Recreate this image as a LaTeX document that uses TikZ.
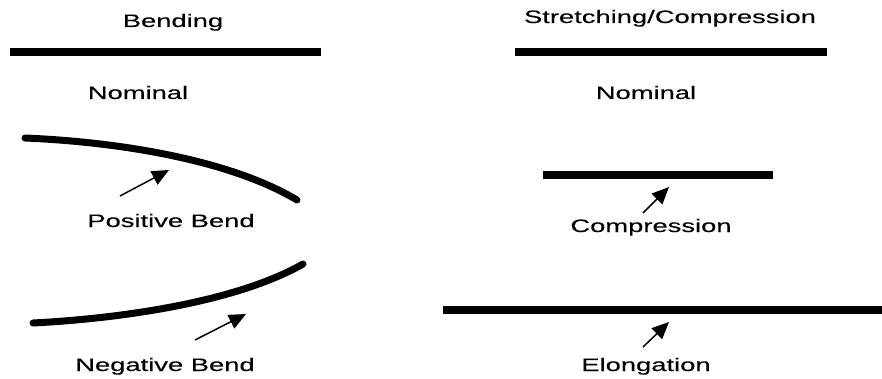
\documentclass[tikz,border=0pt]{standalone}
\usepackage{fontspec}
\setmainfont{Liberation Sans}
\newfontfamily\widefont[FakeStretch=1.52,FakeBold=0.15]{Liberation Sans}
\usetikzlibrary{arrows.meta}
\tikzset{
  lbl/.style={anchor=base, inner sep=0pt, font=\widefont\fontsize{18}{21}\selectfont},
  bar/.style={line width=8pt, line cap=butt},
  curvebeam/.style={line width=7pt, line cap=round},
  ptr/.style={line width=1.5pt, -{Triangle[length=17pt,width=15pt]}}
}
\begin{document}
\begin{tikzpicture}[x=1pt,y=-1pt]
\useasboundingbox (0,0) rectangle (882,379);
% left column
\node[lbl] (bendtitle) at (173,27) {Bending};
\coordinate (b1a) at (10,52);
\coordinate (b1b) at (321,52);
\draw[bar] (b1a) -- (b1b);
\node[lbl] (nom1) at (138,99) {Nominal};
\coordinate (c1a) at (25,138);
\coordinate (c1b) at (297,200);
\draw[curvebeam] (c1a) .. controls (120,142) and (230,160) .. (c1b);
\coordinate (a1s) at (120,196);
\coordinate (a1e) at (169,170);
\draw[ptr] (a1s) -- (a1e);
\node[lbl] (posb) at (171,227) {Positive Bend};
\coordinate (c2a) at (33,323);
\coordinate (c2b) at (303,264);
\draw[curvebeam] (c2a) .. controls (130,318) and (240,300) .. (c2b);
\coordinate (a2s) at (195,340);
\coordinate (a2e) at (246,314);
\draw[ptr] (a2s) -- (a2e);
\node[lbl] (negb) at (165,371) {Negative Bend};
% right column
\node[lbl] (sctitle) at (670,23) {Stretching/Compression};
\coordinate (b2a) at (515,52);
\coordinate (b2b) at (827,52);
\draw[bar] (b2a) -- (b2b);
\node[lbl] (nom2) at (646,99) {Nominal};
\coordinate (b3a) at (543,175);
\coordinate (b3b) at (773,175);
\draw[bar] (b3a) -- (b3b);
\coordinate (a3s) at (643,213);
\coordinate (a3e) at (669,187);
\draw[ptr] (a3s) -- (a3e);
\node[lbl] (comp) at (651,232) {Compression};
\coordinate (b4a) at (443,310);
\coordinate (b4b) at (882,310);
\draw[bar] (b4a) -- (b4b);
\coordinate (a4s) at (643,347);
\coordinate (a4e) at (669,322);
\draw[ptr] (a4s) -- (a4e);
\node[lbl] (elong) at (646,371) {Elongation};
\end{tikzpicture}
\end{document}
